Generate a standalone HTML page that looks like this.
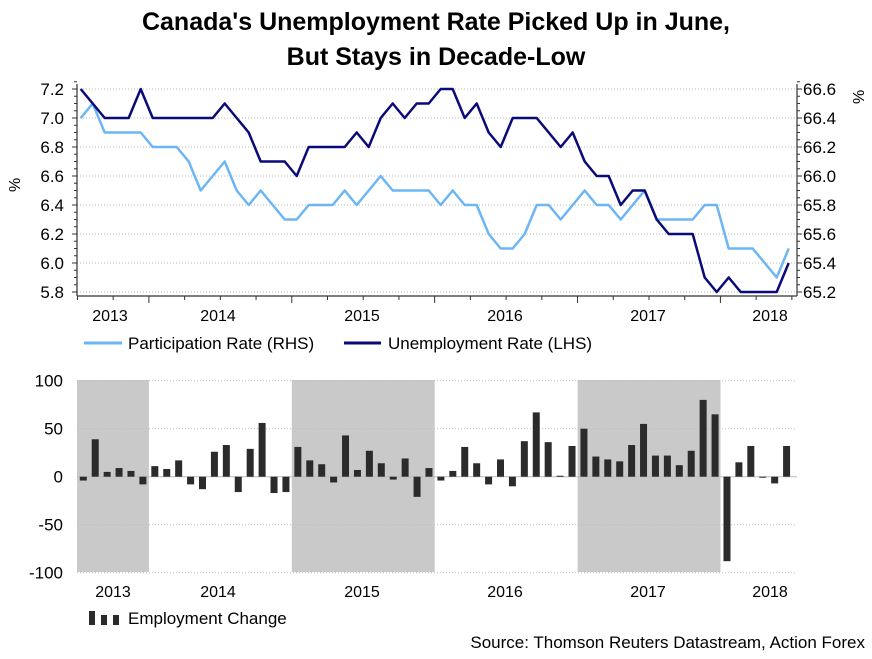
<!DOCTYPE html>
<html><head><meta charset="utf-8"><style>
body{margin:0;background:#fff;}
svg text{font-family:"Liberation Sans",Arial,sans-serif;fill:#000;}
</style></head><body>
<svg width="872" height="654" viewBox="0 0 872 654" xmlns="http://www.w3.org/2000/svg">
<text x="436" y="30" text-anchor="middle" font-size="25" font-weight="bold">Canada's Unemployment Rate Picked Up in June,</text>
<text x="436" y="65" text-anchor="middle" font-size="25" font-weight="bold">But Stays in Decade-Low</text>
<g id="topPanel"></g>
<g id="botPanel"></g>
<text x="865" y="648" font-size="17" text-anchor="end">Source: Thomson Reuters Datastream, Action Forex</text>
</svg>
<script>
const years=["2013","2014","2015","2016","2017","2018"];
const unemp=[7.2,7.1,7.0,7.0,7.0,7.2,7.0,7.0,7.0,7.0,7.0,7.0,7.1,7.0,6.9,6.7,6.7,6.7,6.6,6.8,6.8,6.8,6.8,6.9,6.8,7.0,7.1,7.0,7.1,7.1,7.2,7.2,7.0,7.1,6.9,6.8,7.0,7.0,7.0,6.9,6.8,6.9,6.7,6.6,6.6,6.4,6.5,6.5,6.3,6.2,6.2,6.2,5.9,5.8,5.9,5.8,5.8,5.8,5.8,6.0];
const partic=[66.4,66.5,66.3,66.3,66.3,66.3,66.2,66.2,66.2,66.1,65.9,66.0,66.1,65.9,65.8,65.9,65.8,65.7,65.7,65.8,65.8,65.8,65.9,65.8,65.9,66.0,65.9,65.9,65.9,65.9,65.8,65.9,65.8,65.8,65.6,65.5,65.5,65.6,65.8,65.8,65.7,65.8,65.9,65.8,65.8,65.7,65.8,65.9,65.7,65.7,65.7,65.7,65.8,65.8,65.5,65.5,65.5,65.4,65.3,65.5];
const empChange=[-4,39,5,9,6,-8,11,8,17,-8,-13,26,33,-16,29,56,-17,-16,31,17,13,-6,43,7,27,14,-3,19,-21,9,-4,6,31,14,-8,18,-10,37,67,36,1,32,50,21,18,16,33,55,22,22,12,27,80,65,-88,15,32,-1,-7,32];
const lhsTicks=[5.8,6.0,6.2,6.4,6.6,6.8,7.0,7.2];
const rhsTicks=[65.2,65.4,65.6,65.8,66.0,66.2,66.4,66.6];
const botTicks=[-100,-50,0,50,100];

const NS="http://www.w3.org/2000/svg";
function mk(parent,tag,attrs,text){const e=document.createElementNS(NS,tag);for(const k in attrs)e.setAttribute(k,attrs[k]);if(text!==undefined)e.textContent=text;parent.appendChild(e);return e;}
const topG=document.getElementById('topPanel'),botG=document.getElementById('botPanel');
const L=77,R=797;
const yL=v=>292-(v-5.8)*(203/1.4);
const yR=v=>292-(v-65.2)*(203/1.4);
const xT=i=>80.7+12.0*i;
const xB=i=>83.3+11.92*i;
const yB=v=>476.7-v*0.96;
const yearX=k=>148.9+142.9*(k-1);

lhsTicks.forEach(t=>{
 const y=yL(t);
 let g=mk(topG,'line',{x1:L,x2:R,y1:y,y2:y,stroke:'#bbb','stroke-dasharray':'1,2'});
 
 
 let a=mk(topG,'text',{x:64,y:y+6,'font-size':17,'text-anchor':'end'},t.toFixed(1));
 
 
 mk(topG,'line',{x1:L-5,x2:L,y1:y,y2:y,stroke:'#333'});
});
rhsTicks.forEach(t=>{
 const y=yR(t);
 let a=mk(topG,'text',{x:803,y:y+6,'font-size':17},t.toFixed(1));
 
 
 mk(topG,'line',{x1:R,x2:R+5,y1:y,y2:y,stroke:'#333'});
});
for(let v=5.8;v<7.25;v+=0.05){const y=yL(v);mk(topG,'line',{x1:L-3,x2:L,y1:y,y2:y,stroke:'#333'});mk(topG,'line',{x1:R,x2:R+3,y1:y,y2:y,stroke:'#333'});}
mk(topG,'line',{x1:L,x2:L,y1:84,y2:296,stroke:'#333','stroke-width':1.2});
mk(topG,'line',{x1:R,x2:R,y1:84,y2:296,stroke:'#333','stroke-width':1.2});
mk(topG,'line',{x1:L,x2:R,y1:296,y2:296,stroke:'#333','stroke-width':1.2});
for(let q=-2;q<=19;q++){const x=148.9+35.72*q;if(x>L&&x<R)mk(topG,'line',{x1:x,x2:x,y1:296,y2:q%4==0?303:300,stroke:'#333'});}
const yLab=[110,218,362,505,648,770];
years.forEach((y,i)=>{
 let t=mk(topG,'text',{x:yLab[i],y:321,'font-size':16,'text-anchor':'middle'},y);
 
 
});
let p1=mk(topG,'text',{x:0,y:0,'font-size':16,transform:'translate(20,192) rotate(-90)'},'%');


let p2=mk(topG,'text',{x:0,y:0,'font-size':16,transform:'translate(864,104) rotate(-90)'},'%');


let lp=mk(topG,'polyline',{points:partic.map((v,i)=>xT(i)+','+yR(v)).join(' '),fill:'none',stroke:'#6cb6f5','stroke-width':2.5,'stroke-linejoin':'round'});


let lu=mk(topG,'polyline',{points:unemp.map((v,i)=>xT(i)+','+yL(v)).join(' '),fill:'none',stroke:'#0a0a78','stroke-width':2.5,'stroke-linejoin':'round'});


mk(topG,'line',{x1:84,x2:122,y1:343,y2:343,stroke:'#6cb6f5','stroke-width':3});
let lg1=mk(topG,'text',{x:128,y:349,'font-size':17},'Participation Rate (RHS)');


mk(topG,'line',{x1:344,x2:381,y1:343,y2:343,stroke:'#0a0a78','stroke-width':3});
let lg2=mk(topG,'text',{x:388,y:349,'font-size':17},'Unemployment Rate (LHS)');



[[0,1],[2,3],[4,5]].forEach(([a,b])=>{
 const x1=Math.max(L,yearX(a)),x2=yearX(b);
 let r=mk(botG,'rect',{x:x1,y:380,width:x2-x1,height:192,fill:'#c9c9c9'});
 
 
});
botTicks.forEach(t=>{
 const y=yB(t);
 if(t!==0){
  let g=mk(botG,'line',{x1:L,x2:R,y1:y,y2:y,stroke:'#bbb','stroke-dasharray':'1,2'});
  
  
 }
 let a=mk(botG,'text',{x:63,y:y+6,'font-size':17,'text-anchor':'end'},String(t));
 
 
});
mk(botG,'line',{x1:L,x2:R,y1:yB(0),y2:yB(0),stroke:'#bbb','stroke-width':1});
empChange.forEach((v,i)=>{
 const x=xB(i)-3.5,y0=yB(0),y1=yB(v);
 let b=mk(botG,'rect',{x:x,y:Math.min(y0,y1),width:7,height:Math.max(1,Math.abs(y1-y0)),fill:'#2b2b2b'});
 
 
});
const yLabB=[113,218,362,505,648,770];
years.forEach((y,i)=>{
 let t=mk(botG,'text',{x:yLabB[i],y:597,'font-size':16,'text-anchor':'middle'},y);
 
 
});
[[89,14],[101,10],[113,10]].forEach(([x,h])=>mk(botG,'rect',{x:x,y:625-h,width:6,height:h,fill:'#2b2b2b'}));
let lg3=mk(botG,'text',{x:128,y:624,'font-size':17},'Employment Change');


</script>
</body></html>
